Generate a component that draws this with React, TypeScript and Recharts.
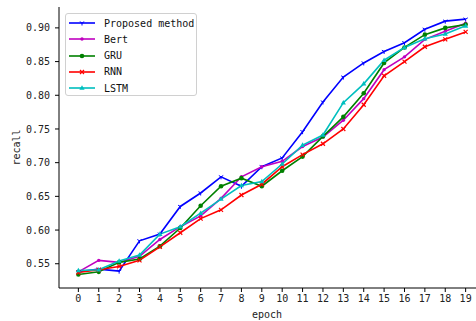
import React from 'react';
import { LineChart, Line, XAxis, YAxis, Label } from 'recharts';

const epochs = [0, 1, 2, 3, 4, 5, 6, 7, 8, 9, 10, 11, 12, 13, 14, 15, 16, 17, 18, 19];
const proposed = [0.538, 0.542, 0.539, 0.584, 0.594, 0.635, 0.655, 0.679, 0.665, 0.694, 0.707, 0.746, 0.790, 0.827, 0.848, 0.865, 0.878, 0.898, 0.910, 0.913];
const bert = [0.538, 0.555, 0.552, 0.561, 0.586, 0.605, 0.621, 0.647, 0.679, 0.694, 0.702, 0.724, 0.738, 0.763, 0.795, 0.838, 0.857, 0.883, 0.895, 0.907];
const gru = [0.534, 0.538, 0.552, 0.557, 0.576, 0.603, 0.636, 0.665, 0.677, 0.665, 0.688, 0.709, 0.739, 0.768, 0.803, 0.848, 0.871, 0.890, 0.900, 0.905];
const rnn = [0.537, 0.541, 0.546, 0.555, 0.575, 0.596, 0.617, 0.630, 0.652, 0.668, 0.694, 0.712, 0.728, 0.750, 0.786, 0.829, 0.850, 0.872, 0.883, 0.894];
const lstm = [0.540, 0.541, 0.554, 0.563, 0.594, 0.605, 0.625, 0.646, 0.666, 0.672, 0.698, 0.726, 0.741, 0.789, 0.817, 0.852, 0.871, 0.884, 0.891, 0.903];
const yTicks = [0.55, 0.6, 0.65, 0.7, 0.75, 0.8, 0.85, 0.9];

const data = epochs.map((e, i) => ({
  epoch: e,
  proposed: proposed[i],
  bert: bert[i],
  gru: gru[i],
  rnn: rnn[i],
  lstm: lstm[i],
}));

const series = [
  { key: 'proposed', name: 'Proposed method', color: '#0000ff', marker: 'tri' },
  { key: 'bert', name: 'Bert', color: '#bf00bf', marker: 'star' },
  { key: 'gru', name: 'GRU', color: '#008000', marker: 'circle' },
  { key: 'rnn', name: 'RNN', color: '#ff0000', marker: 'x' },
  { key: 'lstm', name: 'LSTM', color: '#00bfbf', marker: 'triangle' },
];

const FONT = '"DejaVu Sans Mono", monospace';

function Marker({ cx, cy, marker, color }) {
  if (cx == null || cy == null) return null;
  if (marker === 'circle') return <circle cx={cx} cy={cy} r={2.3} fill={color} />;
  if (marker === 'triangle')
    return <path d={`M${cx},${cy - 2.8}L${cx + 2.6},${cy + 1.8}L${cx - 2.6},${cy + 1.8}Z`} fill={color} />;
  if (marker === 'x')
    return <path d={`M${cx - 2},${cy - 2}L${cx + 2},${cy + 2}M${cx - 2},${cy + 2}L${cx + 2},${cy - 2}`} stroke={color} strokeWidth={1.2} />;
  if (marker === 'star') return <circle cx={cx} cy={cy} r={1.7} fill={color} />;
  return <path d={`M${cx},${cy}L${cx},${cy + 2.5}M${cx},${cy}L${cx - 2.2},${cy - 1.3}M${cx},${cy}L${cx + 2.2},${cy - 1.3}`} stroke={color} strokeWidth={1} />;
}

function makeDot(marker, color) {
  return (props) => <Marker key={`${marker}-${props.index}`} cx={props.cx} cy={props.cy} marker={marker} color={color} />;
}

function LegendBox() {
  return (
    <div
      style={{
        position: 'absolute',
        left: 65,
        top: 13,
        width: 132,
        height: 83,
        border: '1px solid #d0d0d0',
        borderRadius: 3,
        background: 'rgba(255,255,255,0.8)',
        boxSizing: 'border-box',
        fontFamily: FONT,
        fontSize: 10,
        color: '#111',
      }}
    >
      {series.map((s, i) => (
        <div key={s.key} style={{ position: 'absolute', left: 2, top: 2 + i * 16.3, height: 14, display: 'flex', alignItems: 'center' }}>
          <svg width={28} height={14}>
            <line x1={1} y1={7} x2={27} y2={7} stroke={s.color} strokeWidth={1.6} />
            <Marker cx={14} cy={7} marker={s.marker} color={s.color} />
          </svg>
          <span style={{ marginLeft: 8 }}>{s.name}</span>
        </div>
      ))}
    </div>
  );
}

export default function App() {
  return (
    <div style={{ position: 'absolute', left: 0, top: 0, width: 476, height: 321, overflow: 'hidden', background: '#fff' }}>
      <LineChart width={486} height={321} data={data} margin={{ top: 7, right: 1, left: 0, bottom: 0 }}>
        <XAxis
          dataKey="epoch"
          type="number"
          domain={[-0.95, 19.95]}
          ticks={epochs}
          interval={0}
          allowDataOverflow
          height={33}
          stroke="#000"
          tickSize={4}
          tickMargin={3}
          tick={{ fill: '#222', fontSize: 10, fontFamily: FONT }}
        >
          <Label value="epoch" position="center" dx={-5} dy={10} style={{ fill: '#222', fontSize: 10, fontFamily: FONT }} />
        </XAxis>
        <XAxis xAxisId="top" orientation="top" type="number" domain={[-0.95, 19.95]} height={0} tick={false} tickLine={false} stroke="#000" />
        <YAxis
          type="number"
          domain={[0.514, 0.931]}
          ticks={yTicks}
          allowDataOverflow
          width={59}
          stroke="#000"
          tickSize={4}
          tickMargin={5}
          tickFormatter={(v) => v.toFixed(2)}
          tick={{ fill: '#222', fontSize: 10, fontFamily: FONT }}
        >
          <Label value="recall" angle={-90} position="center" dx={-13} style={{ fill: '#222', fontSize: 10, fontFamily: FONT, textAnchor: 'middle' }} />
        </YAxis>
        {series.map((s) => (
          <Line
            key={s.key}
            dataKey={s.key}
            name={s.name}
            stroke={s.color}
            strokeWidth={1.6}
            dot={makeDot(s.marker, s.color)}
            activeDot={false}
            isAnimationActive={false}
          />
        ))}
      </LineChart>
      <LegendBox />
    </div>
  );
}
